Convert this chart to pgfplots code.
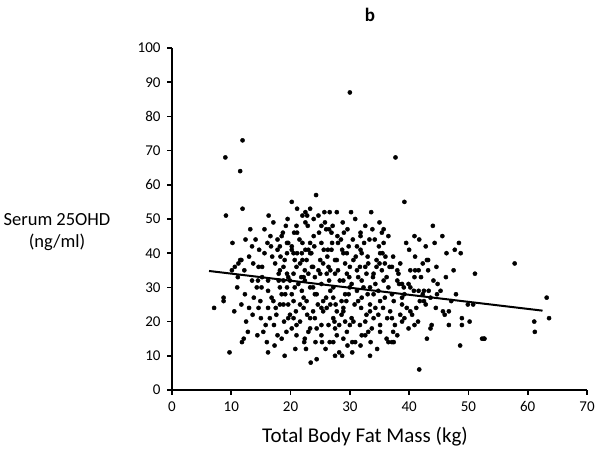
\documentclass[border=0pt]{standalone}
\usepackage{fontspec}
\setmainfont{Carlito}
\usepackage{pgfplots}
\pgfplotsset{compat=1.18}
\pgfplotstableread{
x y
30.0 87
11.9 73
9.0 68
11.5 64
37.7 68
9.1 51
11.9 53
16.3 51
19.5 50
10.2 43
14.1 44
16.6 45
16.1 43
16.7 42
14.7 41
11.7 38
13.0 39
17.8 44
18.7 46
18.5 45
19.4 43
17.8 41
18.2 42
19.4 40
19.6 43
24.3 57
20.2 55
21.1 53
22.5 52
22.0 51
22.8 51
23.3 53
24.7 51
25.7 52
26.6 52
27.8 52
30.2 52
33.6 52
22.5 49
22.9 48
25.8 49
25.2 48
26.0 47
26.5 47
27.1 48
26.9 46
20.6 46
21.1 46
31.8 46
31.8 45
35.0 49
35.4 46
35.7 47
33.3 44
34.2 44
35.7 43
28.5 44
28.0 43
25.2 43
23.3 43
31.2 42
31.8 41
32.0 40
25.6 41
26.3 41
26.9 41
28.7 41
28.9 40
22.5 41
23.0 41
23.3 40
21.9 40
21.1 40
20.2 42
20.2 41
35.1 40
35.5 40
20.5 40
22.0 38
23.5 40
25.0 38
26.2 39
27.5 38
29.5 40
31.0 39
33.0 39
34.5 38
36.0 39
39.2 55
44.0 48
40.9 45
41.7 44
44.3 43
48.4 43
47.7 41
48.7 40
37.3 39
43.2 38
38.5 37
42.3 37
43.0 38
47.5 35
51.1 34
44.1 32
42.5 26
42.8 25
47.1 26
49.9 25
50.8 25
45.7 23
46.7 23
48.9 21
48.9 19
46.7 19
43.8 19
43.6 18
41.5 20
40.9 19
39.9 18
37.1 21
37.3 17
38.0 16
52.6 15
37.1 36
38.0 35
38.2 34
40.2 35
41.0 35
41.6 35
43.2 35
42.0 33
40.9 33
38.0 32
38.3 31
38.8 31
39.9 31
40.2 30
39.1 30
45.3 29
44.7 28
43.3 29
42.5 29
42.3 28
41.6 29
40.8 29
38.8 27
37.4 26
37.1 28
39.2 21
38.5 22
40.2 23
40.5 22
39.6 24
38.8 25
57.8 37
63.2 27
63.6 21
61.1 20
61.2 17
52.3 15
52.7 15
48.6 13
41.7 6
37.1 14
37.4 14
22.3 14
22.6 12
24.2 14
25.3 14
26.6 14
30.4 14
23.4 8
24.4 9
27.5 10
28.2 11
28.7 10
30.4 11
33.4 10
36.5 14
9.7 11
11.8 14
16.2 11
19.0 10
7.1 24
8.7 27
8.7 26
11.7 25
13.0 24
14.6 24
16.2 24
14.4 16
15.4 17
12.1 15
17.6 22
19.3 17
10.1 35
10.6 36
11.2 37
11.5 38
12.2 35
13.7 37
14.6 36
15.2 36
11.1 33
13.5 32
14.5 32
15.2 33
16.2 32
14.3 30
15.1 30
16.2 29
17.4 37
18.0 34
18.2 35
18.8 36
19.4 34
19.6 33
18.0 32
18.8 32
16.8 27
17.1 26
18.2 25
18.8 25
19.6 25
18.5 28
19.1 28
18.2 30
19.4 30
17.5 24
12.5 20
15.0 21
17.2 19
18.5 15
19.6 21
16.0 14
13.6 22
18.9 20
17.8 16
20.7 38
21.6 37
22.7 38
23.8 36
25.5 37
26.4 36
27.8 38
29.2 37
30.6 38
31.7 36
33.1 37
34.5 36
35.9 37
21.0 36
22.4 35
23.6 36
25.0 34
26.7 35
27.5 34
30.0 36
31.2 35
32.6 36
34.0 34
35.4 35
20.5 34
22.2 33
23.0 34
24.1 33
26.1 34
28.3 32
29.5 34
31.4 33
32.8 34
36.2 33
19.9 32
21.3 31
22.4 32
23.8 30
25.2 31
27.2 30
28.9 32
30.3 31
32.0 32
34.3 31
35.7 32
20.7 30
21.9 29
23.3 30
24.4 28
26.7 29
29.2 28
30.0 30
31.2 29
33.4 30
34.8 29
36.5 30
20.2 28
22.2 27
24.1 28
25.5 26
27.2 27
28.6 26
29.8 28
32.0 27
34.0 28
35.9 27
20.5 26
21.6 25
22.7 26
25.2 24
26.7 25
28.9 24
31.4 26
33.4 25
35.1 26
22.2 24
23.8 23
26.1 24
27.8 23
28.9 23
32.8 22
34.3 24
19.9 22
23.3 21
25.5 23
27.2 21
28.6 22
30.3 21
33.4 23
34.8 22
20.5 21
21.6 20
24.1 21
26.4 19
30.6 20
31.7 19
34.0 21
21.0 19
23.3 18
25.2 19
27.5 18
30.0 19
33.1 17
35.1 19
20.2 18
23.0 17
24.4 18
27.8 16
29.5 17
32.0 16
33.7 18
35.1 17
21.0 16
22.4 15
25.2 16
27.2 14
28.9 15
30.9 14
32.6 16
36.2 15
21.5 44
23.9 45
24.8 46
27.9 45
29.6 47
30.5 44
32.4 43
33.8 47
34.9 42
29.8 42
24.0 42
22.0 43
21.0 48
23.9 50
28.8 49
30.9 50
32.6 48
36.5 45
29.0 46
27.0 43
20.9 23
22.8 22
24.6 25
26.0 27
27.6 25
29.4 26
30.8 25
31.9 24
33.0 28
35.6 24
36.8 23
21.8 33
24.7 35
26.5 32
28.0 35
29.9 33
32.3 30
33.9 33
35.0 37
36.7 36
19.0 38
18.3 39
16.9 39
15.6 40
13.5 42
12.4 44
15.6 47
13.2 47
17.1 49
19.2 48
11.0 30
12.3 28
13.8 27
10.5 23
14.9 26
16.5 21
12.8 17
15.8 19
17.3 13
20.8 12
25.9 12
29.6 13
31.8 13
34.6 12
33.5 14
27.4 20
28.2 19
29.2 20
32.6 20
36.3 21
37.6 19
38.8 20
41.2 24
43.6 27
44.8 31
46.2 33
44.6 36
46.3 40
45.6 45
40.0 41
39.5 43
42.8 42
41.0 39
39.2 28
41.8 26
44.5 24
47.9 28
46.0 22
50.2 20
43.0 15
}\pts
\begin{document}
\begin{tikzpicture}[x=1pt,y=1pt]
\path[use as bounding box] (0,0) rectangle (600,462);
\begin{axis}[
  at={(172pt,72pt)}, anchor=south west,
  width=415pt, height=342pt, scale only axis,
  xmin=0, xmax=70, ymin=0, ymax=100,
  xtick={0,10,...,70}, ytick={0,10,...,100},
  axis lines=left, axis line style={-, line width=1.6pt},
  tick align=outside, major tick length=5pt,
  tick style={line width=1.6pt, black},
  ticklabel style={font=\fontsize{15}{18}\selectfont},
  yticklabel style={xshift=-3pt},
  xticklabel style={yshift=-3pt},
  /pgf/number format/assume math mode=true,
  clip=false,
]
\addplot[only marks, mark=*, mark size=2.1pt, black] table[x=x,y=y] {\pts};
\addplot[black, line width=2pt] coordinates {(6.25,34.8) (62.5,23.2)};
\end{axis}
\node[font=\fontsize{21}{24}\selectfont] at (365,25) {Total Body Fat Mass (kg)};
\node[font=\fontsize{18.5}{22}\selectfont, align=center] at (57,230) {Serum 25OHD\\(ng/ml)};
\node[font=\fontsize{19}{22}\selectfont\bfseries] at (370,447) {b};
\end{tikzpicture}
\end{document}
